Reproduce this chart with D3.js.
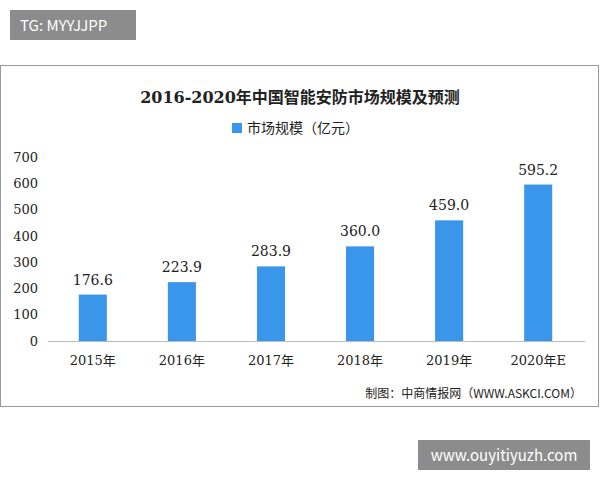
<!DOCTYPE html>
<html><head><meta charset="utf-8">
<script src="https://cdn.jsdelivr.net/npm/d3@7"></script>
<style>body{margin:0;background:#fff}</style>
</head><body>
<svg id="c" width="600" height="480"></svg>
<script>
const categories = ["2015年", "2016年", "2017年", "2018年", "2019年", "2020年E"];
const values = [176.6, 223.9, 283.9, 360.0, 459.0, 595.2];
const yTicks = [0, 100, 200, 300, 400, 500, 600, 700];

const svg = d3.select("#c");
const serif = "'DejaVu Serif','Liberation Serif','Noto Sans CJK SC',serif";
const sans = "'Noto Sans CJK SC','Noto Sans',sans-serif";

// frame
svg.append("rect").attr("x", 0.5).attr("y", 65.5).attr("width", 598).attr("height", 341)
  .attr("fill", "#fff").attr("stroke", "#999");

// tag
svg.append("rect").attr("x", 10).attr("y", 10).attr("width", 126).attr("height", 30).attr("fill", "#8c8c8c");
svg.append("text").attr("x", 20).attr("y", 31).attr("fill", "#fff").attr("font-family", sans)
  .attr("font-size", 15).text("TG: MYYJJPP");

svg.append("text").attr("x", 300).attr("y", 103).attr("text-anchor", "middle")
  .attr("font-family", serif).attr("font-weight", "bold").attr("font-size", 16).attr("fill", "#222")
  .text("2016-2020年中国智能安防市场规模及预测");

svg.append("rect").attr("x", 232).attr("y", 123).attr("width", 10).attr("height", 10).attr("fill", "#3a96ea");
svg.append("text").attr("x", 247).attr("y", 133).attr("font-family", sans).attr("font-size", 14).attr("fill", "#222")
  .text("市场规模（亿元）");

const x = d3.scaleBand().domain(categories).range([48.5, 582.5]).paddingInner(0.685).paddingOuter(0.34);
const y = d3.scaleLinear().domain([0, 700]).range([341, 157]);

const ya = svg.append("g").attr("transform", "translate(48,0)")
  .call(d3.axisLeft(y).tickValues(yTicks).tickSize(0).tickPadding(10));
ya.select(".domain").remove();
ya.selectAll("text").attr("font-family", serif).attr("font-size", 13).attr("fill", "#222");

svg.append("line").attr("x1", 48).attr("x2", 585).attr("y1", 341.5).attr("y2", 341.5).attr("stroke", "#bbb");

svg.selectAll(".bar").data(values).join("rect")
  .attr("x", (d, i) => x(categories[i])).attr("width", x.bandwidth())
  .attr("y", d => y(d)).attr("height", d => y(0) - y(d)).attr("fill", "#3a96ea");

svg.selectAll(".lbl").data(values).join("text")
  .attr("x", (d, i) => x(categories[i]) + x.bandwidth() / 2).attr("y", d => y(d) - 10)
  .attr("text-anchor", "middle").attr("font-family", serif).attr("font-size", 14).attr("fill", "#222")
  .text(d => d.toFixed(1));

svg.selectAll(".cat").data(categories).join("text")
  .attr("x", d => x(d) + x.bandwidth() / 2).attr("y", 365)
  .attr("text-anchor", "middle").attr("font-family", serif).attr("font-size", 13).attr("fill", "#222")
  .text(d => d);

svg.append("text").attr("x", 582).attr("y", 398).attr("text-anchor", "end")
  .attr("font-family", sans).attr("font-size", 12).attr("fill", "#222")
  .text("制图：中商情报网（WWW.ASKCI.COM）");

svg.append("rect").attr("x", 418).attr("y", 440).attr("width", 172).attr("height", 30).attr("fill", "#8c8c8c");
svg.append("text").attr("x", 504).attr("y", 461).attr("text-anchor", "middle").attr("fill", "#fff")
  .attr("font-family", sans).attr("font-size", 15).text("www.ouyitiyuzh.com");
</script>
</body></html>
